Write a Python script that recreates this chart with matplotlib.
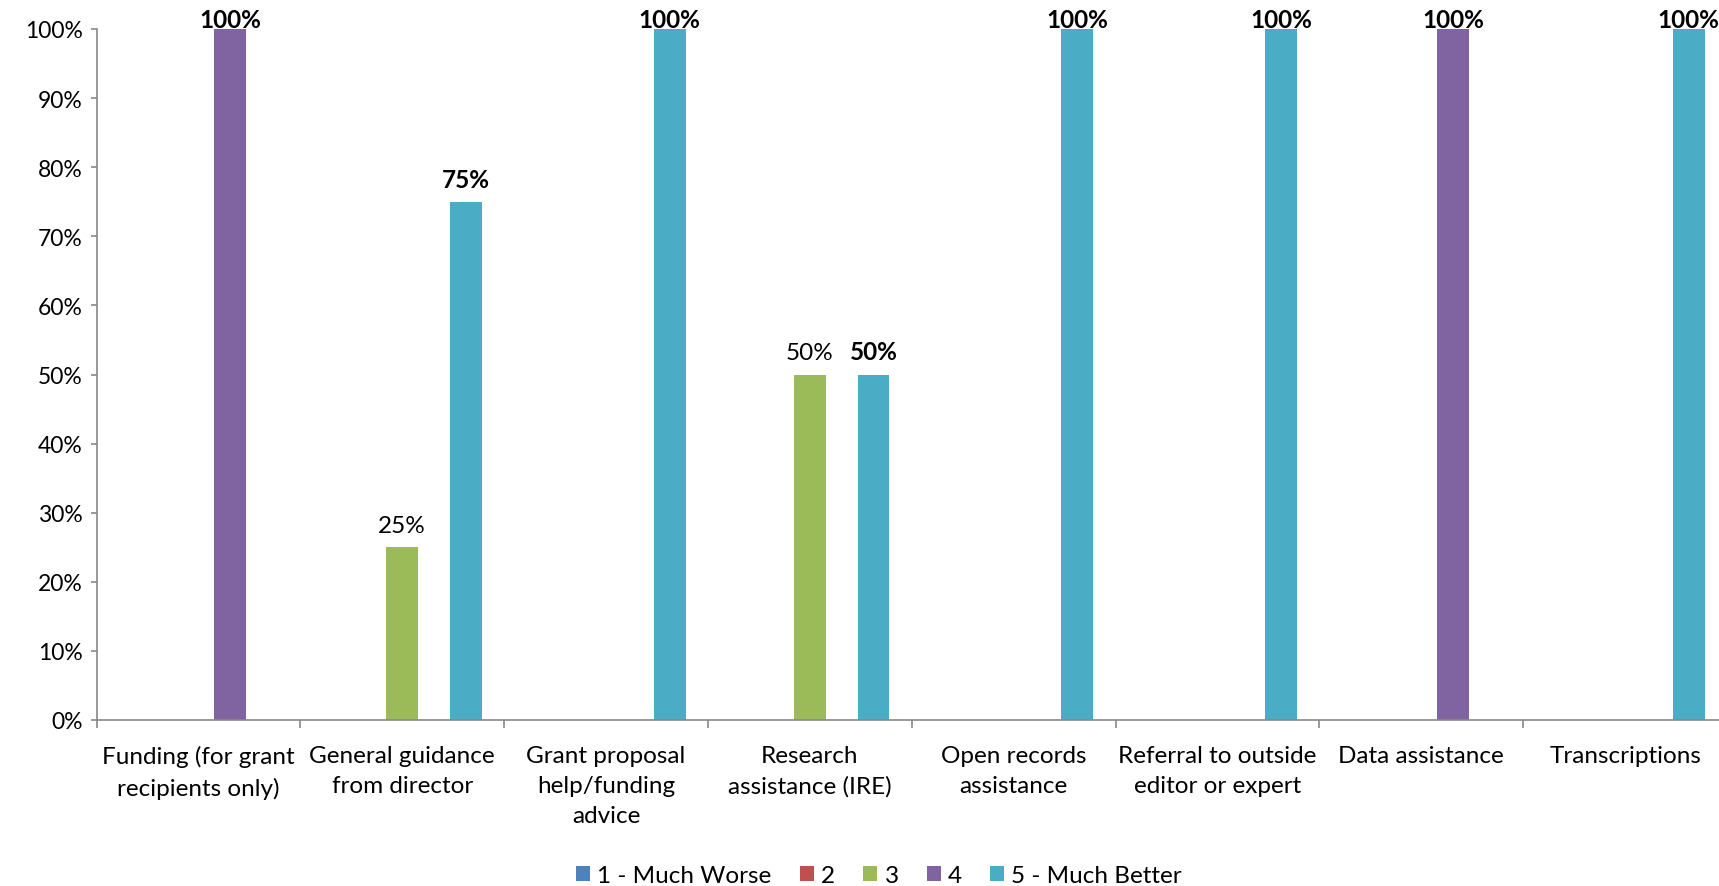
import matplotlib
matplotlib.use("Agg")
import matplotlib.pyplot as plt
import numpy as np
from matplotlib.ticker import FuncFormatter, FixedLocator
from matplotlib.patches import Patch

plt.rcParams['font.family'] = ['Lato', 'DejaVu Sans']

categories = ["Funding (for grant\nrecipients only)", "General guidance\nfrom director",
              "Grant proposal\nhelp/funding\nadvice", "Research\nassistance (IRE)",
              "Open records\nassistance", "Referral to outside\neditor or expert",
              "Data assistance", "Transcriptions"]
series_names = ["1 - Much Worse", "2", "3", "4", "5 - Much Better"]
s1 = [0, 0, 0, 0, 0, 0, 0, 0]
s2 = [0, 0, 0, 0, 0, 0, 0, 0]
s3 = [0, 0.25, 0, 0.50, 0, 0, 0, 0]
s4 = [1.00, 0, 0, 0, 0, 0, 1.00, 0]
s5 = [0, 0.75, 1.00, 0.50, 1.00, 1.00, 0, 1.00]
series = [s1, s2, s3, s4, s5]
colors = ["#4F81BD", "#C0504D", "#9BBB59", "#8064A2", "#4BACC6"]
label_bold = [False, False, False, True, True]

W, H = 1719, 887
fig = plt.figure(figsize=(W / 100, H / 100), dpi=100)
left = 96.5 / W
right = 1727 / W
bottom = 1 - 721 / H
top = 1 - 30 / H
ax = fig.add_axes([left, bottom, right - left, top - bottom])

FS = 17.5
x = np.arange(len(categories))
w = 0.156
for i, (vals, c) in enumerate(zip(series, colors)):
    pos = x + (i - 2) * w
    ax.bar(pos, vals, width=w, color=c, label=series_names[i], zorder=2)
    for xb, v in zip(pos, vals):
        if v > 0:
            off = -1.5 if v >= 0.999 else 8
            ax.annotate(f"{v*100:.0f}%", (xb, v), xytext=(0, off), textcoords="offset points",
                        ha="center", va="bottom", fontsize=FS,
                        fontweight="bold" if label_bold[i] else "normal", annotation_clip=False)

ax.set_xlim(-0.5, len(categories) - 0.5)
ax.set_ylim(0, 1)
ax.yaxis.set_major_locator(FixedLocator(np.arange(0, 1.01, 0.1)))
ax.yaxis.set_major_formatter(FuncFormatter(lambda v, p: f"{v*100:.0f}%"))
ax.set_xticks(x)
ax.set_xticklabels(categories, fontsize=FS, linespacing=1.52, va="top")
ax.set_xticks(np.arange(-0.5, len(categories), 1), minor=True)
ax.tick_params(axis="x", which="major", length=0, pad=18)
ax.tick_params(axis="x", which="minor", length=6, color="#888888", width=1.2)
ax.tick_params(axis="y", length=4, color="#888888", width=1.2, labelsize=16.5, pad=6)
for s in ["top", "right"]:
    ax.spines[s].set_visible(False)
for s in ["left", "bottom"]:
    ax.spines[s].set_color("#888888")
    ax.spines[s].set_linewidth(1.2)

handles = [Patch(facecolor=c, label=n) for c, n in zip(colors, series_names)]
fig.legend(handles=handles, loc="center", bbox_to_anchor=(879 / W, 1 - 877 / H), ncol=5,
           frameon=False, fontsize=FS, handlelength=0.58, handleheight=0.58,
           handletextpad=0.3, columnspacing=1.15, borderaxespad=0, borderpad=0)

fig.savefig("out.png", dpi=100)
